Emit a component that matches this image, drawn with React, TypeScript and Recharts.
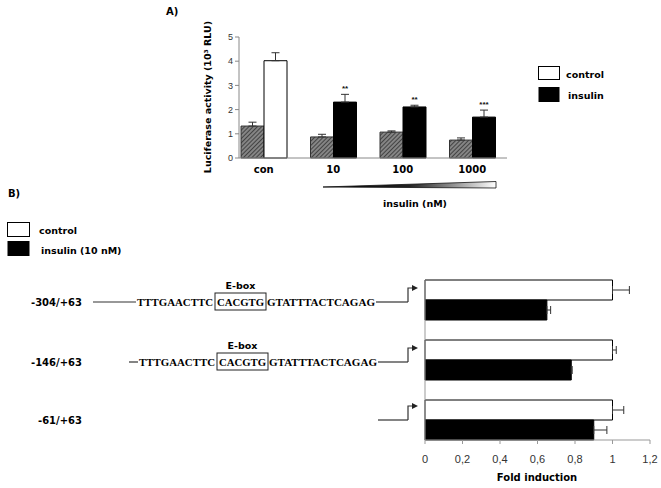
import { BarChart, Bar, XAxis, YAxis, ErrorBar, Cell, LabelList } from "recharts";

// Panel A: luciferase activity (10^3 RLU)
const doseLabels = ["con", "10", "100", "1000"];
const basalValues = [1.32, 0.87, 1.07, 0.74];
const basalErrors = [0.16, 0.11, 0.05, 0.09];
const treatedValues = [4.02, 2.31, 2.11, 1.69];
const treatedErrors = [0.33, 0.32, 0.07, 0.29];
const significance = ["", "**", "**", "***"];
const luciferaseTicks = [0, 1, 2, 3, 4, 5];

// Panel B: fold induction per promoter construct
const constructs = ["-304/+63", "-146/+63", "-61/+63"];
const controlFold = [1.0, 1.0, 1.0];
const controlFoldErrors = [0.09, 0.02, 0.06];
const insulinFold = [0.65, 0.78, 0.9];
const insulinFoldErrors = [0.02, 0.005, 0.07];
const foldTicks = [0, 0.2, 0.4, 0.6, 0.8, 1, 1.2];

const SEQ_LEFT = "TTTGAACTTC";
const SEQ_EBOX = "CACGTG";
const SEQ_RIGHT = "GTATTTACTCAGAG";

const LABEL_FONT = "'DejaVu Sans', Verdana, sans-serif";
const TICK_FONT = "'Liberation Sans', Arial, sans-serif";
const SEQ_FONT = "'Liberation Serif', 'Times New Roman', serif";

const responseData = doseLabels.map((dose, i) => ({
  dose,
  basal: basalValues[i],
  basalErr: [0, basalErrors[i]],
  treated: treatedValues[i],
  treatedErr: [0, treatedErrors[i]],
}));

const foldData = constructs.map((construct, i) => ({
  construct,
  control: controlFold[i],
  controlErr: [0, controlFoldErrors[i]],
  insulin: insulinFold[i],
  insulinErr: [0, insulinFoldErrors[i]],
}));

function Stars(props: any) {
  const { x, y, width, height, value, index } = props;
  const mark = significance[index];
  if (!mark || !value) return null;
  const pxPerUnit = height / value;
  const top = y - treatedErrors[index] * pxPerUnit;
  return (
    <text
      x={x + width / 2}
      y={top - 3}
      textAnchor="middle"
      fontSize={8}
      fontFamily={TICK_FONT}
      fontWeight="bold"
      fill="#111"
    >
      {mark}
    </text>
  );
}

function PromoterRow({ y, lineStart, seqStart, withEbox }: { y: number; lineStart: number; seqStart: number; withEbox: boolean }) {
  const boxL = seqStart + 78;
  const boxR = boxL + 51;
  const seqEnd = boxR + 110;
  const tss = 408;
  return (
    <g>
      <line x1={withEbox ? lineStart : 378} y1={y} x2={withEbox ? seqStart - 1 : tss} y2={y} stroke="#333" strokeWidth={1.2} />
      {withEbox && (
        <>
          <text x={seqStart} y={y + 4} fontSize={11} fontFamily={SEQ_FONT} fontWeight="bold" textLength={76} lengthAdjust="spacingAndGlyphs">
            {SEQ_LEFT}
          </text>
          <rect x={boxL} y={y - 9} width={boxR - boxL} height={17} fill="none" stroke="#222" strokeWidth={1} />
          <text x={boxL + 2} y={y + 4} fontSize={11} fontFamily={SEQ_FONT} fontWeight="bold" textLength={47} lengthAdjust="spacingAndGlyphs">
            {SEQ_EBOX}
          </text>
          <text x={boxR + 1} y={y + 4} fontSize={11} fontFamily={SEQ_FONT} fontWeight="bold" textLength={108} lengthAdjust="spacingAndGlyphs">
            {SEQ_RIGHT}
          </text>
          <text x={(boxL + boxR) / 2} y={y - 13} textAnchor="middle" fontSize={9.5} fontFamily={LABEL_FONT} fontWeight="bold">
            E-box
          </text>
          <line x1={seqEnd} y1={y} x2={tss} y2={y} stroke="#333" strokeWidth={1.2} />
        </>
      )}
      <polyline points={`${tss},${y} ${tss},${y - 14} ${tss + 5},${y - 14}`} fill="none" stroke="#333" strokeWidth={1.2} />
      <polygon points={`${tss + 4},${y - 17} ${tss + 10},${y - 14} ${tss + 4},${y - 11}`} fill="#222" />
    </g>
  );
}

export default function App() {
  return (
    <div
      style={{
        position: "absolute",
        left: 0,
        top: 0,
        width: 661,
        height: 488,
        background: "#fff",
      }}
    >
      <div style={{ position: "absolute", left: 150, top: 0 }}>
        <BarChart
          width={370}
          height={215}
          data={responseData}
          margin={{ top: 37, right: 13, bottom: 37, left: 59 }}
          barCategoryGap={12}
          barGap={0}
        >
          <defs>
            <pattern id="hatch" width="3" height="3" patternUnits="userSpaceOnUse" patternTransform="rotate(45)">
              <rect width="3" height="3" fill="#858585" />
              <line x1="0" y1="0" x2="0" y2="3" stroke="#262626" strokeWidth="1.4" />
            </pattern>
          </defs>
          <XAxis
            dataKey="dose"
            padding={{ left: -10, right: 0 }}
            tickLine={false}
            axisLine={{ stroke: "#888" }}
            height={20}
            tick={{ fontSize: 10, fontFamily: LABEL_FONT, fontWeight: "bold", fill: "#000" }}
          />
          <YAxis
            width={30}
            domain={[0, 5]}
            ticks={luciferaseTicks}
            tickSize={4}
            tickLine={{ stroke: "#888" }}
            axisLine={{ stroke: "#888" }}
            tick={{ fontSize: 9, fontFamily: TICK_FONT, fill: "#333" }}
          />
          <Bar dataKey="basal" fill="url(#hatch)" stroke="#333" strokeWidth={1} isAnimationActive={false}>
            <ErrorBar dataKey="basalErr" width={4} stroke="#333" strokeWidth={1} />
          </Bar>
          <Bar dataKey="treated" stroke="#000" strokeWidth={1} isAnimationActive={false}>
            {responseData.map((d, i) => (
              <Cell key={d.dose} fill={i === 0 ? "#fff" : "#000"} />
            ))}
            <ErrorBar dataKey="treatedErr" width={4} stroke="#333" strokeWidth={1} />
            <LabelList dataKey="treated" content={Stars} />
          </Bar>
        </BarChart>
      </div>

      <div style={{ position: "absolute", left: 400, top: 250 }}>
        <BarChart
          layout="vertical"
          width={261}
          height={238}
          data={foldData}
          margin={{ top: 30, right: 11, bottom: 23, left: 24 }}
          barCategoryGap={10}
          barGap={0}
        >
          <XAxis
            type="number"
            domain={[0, 1.2]}
            ticks={foldTicks}
            interval={0}
            height={25}
            tickSize={4}
            tickMargin={11}
            tickLine={{ stroke: "#999" }}
            axisLine={{ stroke: "#999" }}
            tickFormatter={(v: number) => String(v).replace(".", ",")}
            tick={{ fontSize: 11, fontFamily: "'Liberation Sans Narrow', 'Arial Narrow', sans-serif", fill: "#333" }}
          />
          <YAxis
            type="category"
            dataKey="construct"
            width={1}
            tick={false}
            tickLine={false}
            axisLine={{ stroke: "#999" }}
            padding={{ top: -10, bottom: -10 }}
          />
          <Bar dataKey="control" fill="#fff" stroke="#000" strokeWidth={1} isAnimationActive={false}>
            <ErrorBar dataKey="controlErr" direction="x" width={4} stroke="#333" strokeWidth={1} />
          </Bar>
          <Bar dataKey="insulin" fill="#000" stroke="#000" strokeWidth={1} isAnimationActive={false}>
            <ErrorBar dataKey="insulinErr" direction="x" width={4} stroke="#333" strokeWidth={1} />
          </Bar>
        </BarChart>
      </div>

      <svg
        width={661}
        height={488}
        style={{ position: "absolute", left: 0, top: 0, pointerEvents: "none" }}
        fontFamily={LABEL_FONT}
      >
        <defs>
          <linearGradient id="wedge" x1="0" y1="0" x2="1" y2="0">
            <stop offset="0%" stopColor="#000" />
            <stop offset="50%" stopColor="#222" />
            <stop offset="100%" stopColor="#fff" />
          </linearGradient>
        </defs>

        {/* panel A annotations */}
        <text x={166} y={15} fontSize={10} fontWeight="bold">A)</text>
        <text
          x={211}
          y={97}
          transform="rotate(-90 211 97)"
          textAnchor="middle"
          fontSize={9.5}
          fontWeight="bold"
        >
          Luciferase activity (10³ RLU)
        </text>
        <polygon points="323,187 496,181.5 496,188" fill="url(#wedge)" stroke="#111" strokeWidth={0.8} />
        <text x={415} y={207} textAnchor="middle" fontSize={9.5} fontWeight="bold">insulin (nM)</text>

        <rect x={538.5} y={66.5} width={21} height={13} fill="#fff" stroke="#000" strokeWidth={1} />
        <rect x={538.5} y={87} width={21} height={15} fill="#000" />
        <text x={566} y={77.5} fontSize={9.5} fontWeight="bold">control</text>
        <text x={568} y={98.5} fontSize={9.5} fontWeight="bold">insulin</text>

        {/* panel B annotations */}
        <text x={8} y={197} fontSize={10} fontWeight="bold">B)</text>
        <rect x={7.5} y={222.5} width={22} height={14} fill="#fff" stroke="#000" strokeWidth={1} />
        <rect x={7.5} y={241} width={22} height={15} fill="#000" />
        <text x={39} y={234} fontSize={9.5} fontWeight="bold">control</text>
        <text x={41} y={253.5} fontSize={9.5} fontWeight="bold">insulin (10 nM)</text>

        {constructs.map((c, i) => (
          <text key={c} x={82} y={[306, 366, 424][i]} textAnchor="end" fontSize={10} fontWeight="bold">
            {c}
          </text>
        ))}
        <PromoterRow y={302} lineStart={93} seqStart={137} withEbox />
        <PromoterRow y={362} lineStart={129} seqStart={139} withEbox />
        <PromoterRow y={420} lineStart={378} seqStart={0} withEbox={false} />

        <text x={537} y={481} textAnchor="middle" fontSize={10} fontWeight="bold">Fold induction</text>
      </svg>
    </div>
  );
}
